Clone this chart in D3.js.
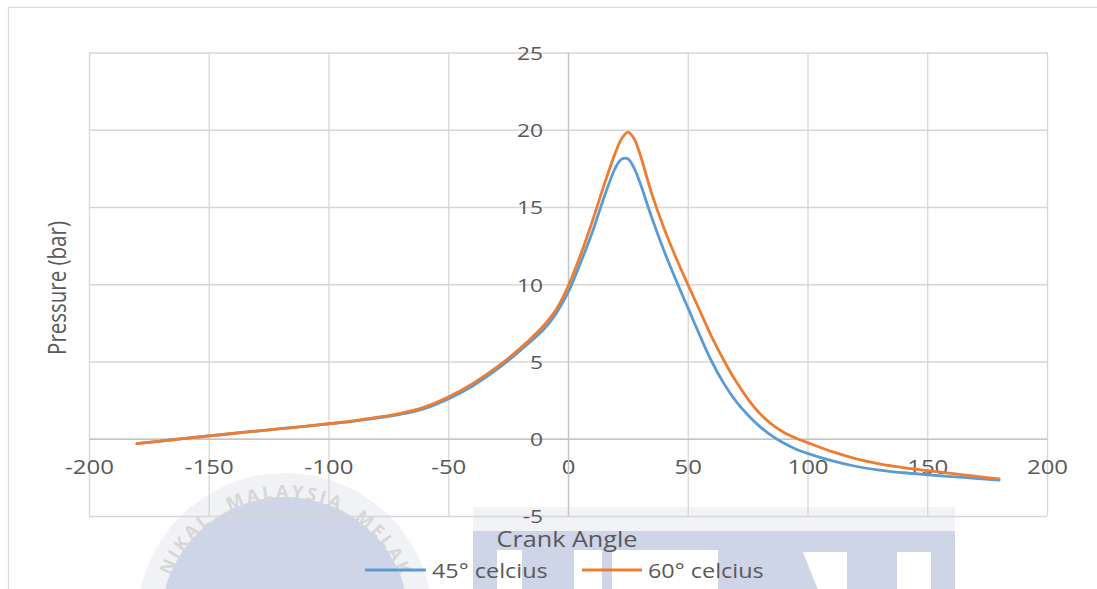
<!DOCTYPE html>
<html>
<head>
<meta charset="utf-8">
<script src="https://cdn.jsdelivr.net/npm/d3@7"></script>
<style>
  html, body { margin: 0; padding: 0; background: #ffffff; }
  svg { display: block; font-family: "Open Sans", "Noto Sans", sans-serif; }
</style>
</head>
<body>
<svg id="chart" width="1097" height="589"></svg>
<script>
// Crank angle (degrees) shared by both series
const angles = [-180, -170, -160, -150, -140, -130, -120, -110, -100, -90, -80, -70, -60, -50, -40, -30, -20, -10, -5, 0,
  5, 10, 15, 20, 22.5, 25, 27.5, 30, 35, 40, 45, 50, 55, 60, 65, 70, 75, 80, 85, 90, 95, 100,
  110, 120, 130, 140, 150, 160, 170, 180];

// Cylinder pressure (bar), 45 °C intake
const pressure45 = [-0.32, -0.15, 0.02, 0.18, 0.34, 0.5, 0.65, 0.8, 0.96, 1.13, 1.33, 1.58, 1.95, 2.58, 3.4, 4.45, 5.7, 7.1, 8.1, 9.45,
  11.3, 13.3, 15.6, 17.6, 18.1, 18.12, 17.55, 16.6, 14.3, 12.2, 10.3, 8.5, 6.7, 5.0, 3.6, 2.45, 1.55, 0.8, 0.2, -0.28, -0.66, -0.95,
  -1.42, -1.78, -2.03, -2.2, -2.33, -2.45, -2.56, -2.68];

// Cylinder pressure (bar), 60 °C intake
const pressure60 = [-0.32, -0.15, 0.02, 0.18, 0.34, 0.5, 0.65, 0.8, 0.97, 1.16, 1.38, 1.65, 2.05, 2.7, 3.55, 4.6, 5.85, 7.35, 8.35, 9.85,
  11.8, 14.0, 16.4, 18.6, 19.45, 19.85, 19.45, 18.45, 15.85, 13.65, 11.75, 10.0, 8.3, 6.6, 5.1, 3.75, 2.6, 1.65, 0.95, 0.42, 0.05, -0.25,
  -0.82, -1.28, -1.62, -1.87, -2.06, -2.24, -2.42, -2.6];

const seriesNames = ["45° celcius", "60° celcius"];
const seriesColors = ["#5b9bd5", "#ed7d31"];

const xTicks = [-200, -150, -100, -50, 0, 50, 100, 150, 200];
const yTicks = [-5, 0, 5, 10, 15, 20, 25];

const svg = d3.select("#chart");
const W = 1097, H = 589;
const plot = { left: 89, right: 1047, top: 52.5, bottom: 516 };
const stretch = 1.2; // glyph width factor used for all chart text

const x = d3.scaleLinear().domain([-200, 200]).range([plot.left, plot.right]);
const y = d3.scaleLinear().domain([-5, 25]).range([plot.bottom, plot.top]);
const fmt = d => String(d); // plain hyphen for negatives

// ---- university crest watermark behind the chart ----
const crest = svg.append("g").attr("class", "crest");
const cx = 285, cy = 621, rIn = 124;
crest.append("circle").attr("cx", cx).attr("cy", cy).attr("r", rIn + 24).attr("fill", "#f1f2f5");
crest.append("circle").attr("cx", cx).attr("cy", cy).attr("r", rIn).attr("fill", "#cdd5e6");
const rText = rIn - 1;
crest.append("path").attr("id", "ringPath").attr("fill", "none")
  .attr("d", `M${cx},${cy + rText} A${rText},${rText} 0 1 1 ${cx},${cy - rText} A${rText},${rText} 0 1 1 ${cx},${cy + rText}`);
const ringWords = [["NIKAL", -36, "end"], ["MALAYSIA", 0, "middle"], ["MELAK", 34, "start"]];
ringWords.forEach(([word, deg, anchor]) => {
  crest.append("text")
    .attr("font-size", 18).attr("font-weight", 700).attr("letter-spacing", 3)
    .attr("fill", "#d6d6d9").attr("text-anchor", anchor)
    .append("textPath").attr("href", "#ringPath")
    .attr("startOffset", ((180 + deg) * Math.PI / 180) * rText)
    .text(word);
});
// block lettering band
crest.append("rect").attr("x", 473).attr("y", 507).attr("width", 482).attr("height", 25).attr("fill", "#f2f3f6");
crest.append("rect").attr("x", 473).attr("y", 531).attr("width", 482).attr("height", 60).attr("fill", "#cdd5e6");
const gaps = [
  [[497, 550], [522, 550], [522, 590], [497, 590]],
  [[574, 550], [602, 550], [602, 590], [574, 590]],
  [[612, 550], [718, 550], [718, 590], [612, 590]],
  [[803, 552], [847, 552], [847, 590], [818, 590]],
  [[897, 552], [931, 552], [931, 590], [897, 590]]
];
crest.selectAll("polygon.gap").data(gaps).join("polygon").attr("class", "gap")
  .attr("points", d => d.map(p => p.join(",")).join(" ")).attr("fill", "#ffffff");

// ---- outer chart border ----
svg.append("rect").attr("x", 8.5).attr("y", 7.5).attr("width", W + 10).attr("height", H + 10)
  .attr("fill", "none").attr("stroke", "#d9d9d9").attr("stroke-width", 1.2);

// ---- gridlines ----
const grid = svg.append("g").attr("class", "grid");
grid.append("g").attr("transform", `translate(0,${plot.bottom})`)
  .call(d3.axisBottom(x).tickValues(xTicks).tickSize(-(plot.bottom - plot.top)).tickFormat(""))
  .call(g => g.select(".domain").remove());
grid.append("g").attr("transform", `translate(${plot.left},0)`)
  .call(d3.axisLeft(y).tickValues(yTicks).tickSize(-(plot.right - plot.left)).tickFormat(""))
  .call(g => g.select(".domain").remove());
grid.selectAll("line").attr("stroke", "#d6d6d6").attr("stroke-width", 1.3);

// ---- axes crossing at the origin ----
const xAxis = svg.append("g").attr("transform", `translate(0,${y(0)})`)
  .call(d3.axisBottom(x).tickValues(xTicks).tickFormat(fmt).tickSize(0).tickPadding(21).tickSizeOuter(0));
const yAxis = svg.append("g").attr("transform", `translate(${x(0)},0)`)
  .call(d3.axisLeft(y).tickValues(yTicks).tickFormat(fmt).tickSize(0).tickPadding(25 / stretch).tickSizeOuter(0));
[xAxis, yAxis].forEach(a => {
  a.select(".domain").attr("stroke", "#c4c4c4").attr("stroke-width", 1.3);
  a.selectAll("text").attr("fill", "#595959").attr("font-family", "'Open Sans', sans-serif")
    .attr("transform", `scale(${stretch},1)`);
});
xAxis.selectAll("text").attr("font-size", 20);
yAxis.selectAll("text").attr("font-size", 19).attr("dy", "0.36em");

// ---- series lines ----
const line = d3.line().x((d, i) => x(angles[i])).y(d => y(d)).curve(d3.curveCatmullRom.alpha(0.5));
[pressure45, pressure60].forEach((vals, k) => {
  svg.append("path").datum(vals)
    .attr("fill", "none").attr("stroke", seriesColors[k]).attr("stroke-width", 2.8)
    .attr("stroke-linejoin", "round").attr("stroke-linecap", "round")
    .attr("d", line);
});

// ---- axis titles ----
svg.append("text").attr("transform", `translate(${(plot.left + plot.right) / 2 - 1},547) scale(${stretch},1)`)
  .attr("text-anchor", "middle").attr("font-size", 21).attr("fill", "#595959").text("Crank Angle");
svg.append("text").attr("transform", `translate(66,288) scale(${stretch},1) rotate(-90)`)
  .attr("text-anchor", "middle").attr("font-size", 20.5).attr("fill", "#595959").text("Pressure (bar)");

// ---- legend ----
const legendItems = [{ x1: 365, x2: 426, tx: 432 }, { x1: 582, x2: 642, tx: 648 }];
legendItems.forEach((it, k) => {
  svg.append("line").attr("x1", it.x1).attr("x2", it.x2).attr("y1", 570).attr("y2", 570)
    .attr("stroke", seriesColors[k]).attr("stroke-width", 2.8);
  svg.append("text").attr("transform", `translate(${it.tx},578) scale(${stretch},1)`)
    .attr("font-size", 19.5).attr("fill", "#595959").text(seriesNames[k]);
});
</script>
</body>
</html>
